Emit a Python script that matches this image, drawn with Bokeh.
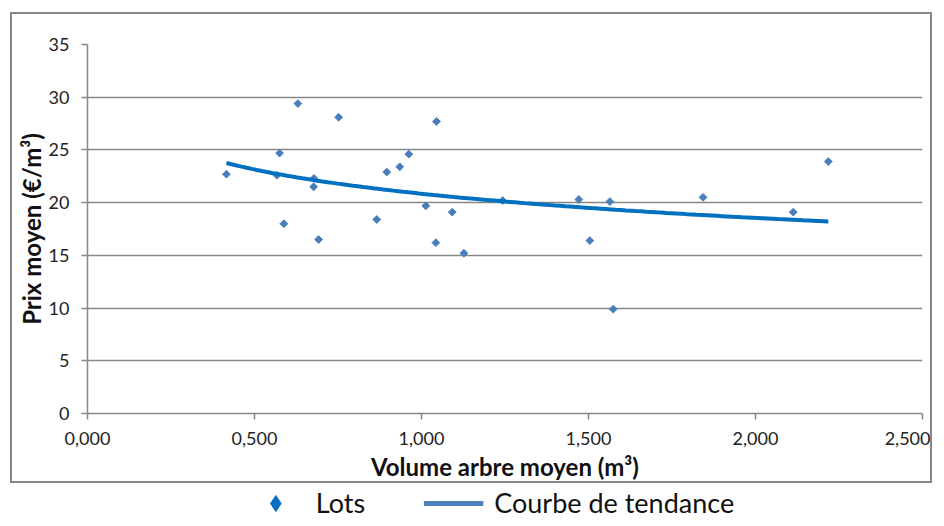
import numpy as np
from bokeh.plotting import figure
from bokeh.layouts import column
from bokeh.models import Legend, LegendItem, FixedTicker, Range1d
from bokeh.embed import file_html
from bokeh.resources import INLINE

# data
volume = [0.416, 0.575, 0.567, 0.588, 0.630, 0.678, 0.677, 0.692, 0.752, 0.866,
          0.896, 0.935, 0.962, 1.045, 1.013, 1.043, 1.092, 1.127, 1.243, 1.471,
          1.504, 1.564, 1.574, 1.843, 2.113, 2.218]
prix = [22.7, 24.7, 22.6, 18.0, 29.4, 22.3, 21.5, 16.5, 28.1, 18.4,
        22.9, 23.4, 24.6, 27.7, 19.7, 16.2, 19.1, 15.2, 20.2, 20.3,
        16.4, 20.1, 9.9, 20.5, 19.1, 23.9]
x_ticks = [0.0, 0.5, 1.0, 1.5, 2.0, 2.5]
x_tick_labels = ["0,000", "0,500", "1,000", "1,500", "2,000", "2,500"]
y_ticks = [0, 5, 10, 15, 20, 25, 30, 35]
legend_labels = ["Lots", "Courbe de tendance"]

FONT = "Lato"
GRAY = "#878787"

# logarithmic trend line fitted on the data (as the spreadsheet does)
b, a = np.polyfit(np.log(volume), prix, 1)
tx = np.linspace(min(volume), max(volume), 120)
ty = a + b * np.log(tx)

# ---- main chart (inside the bordered chart area) ----
p = figure(width=922, height=471, output_backend="svg", toolbar_location=None,
           x_range=Range1d(0, 2.5), y_range=Range1d(0, 35),
           min_border_left=75, min_border_right=12, min_border_top=30,
           min_border_bottom=72, outline_line_color=None,
           background_fill_color="white", border_fill_color="white",
           margin=(12, 0, 0, 10),
           styles={"border": "2px solid #878787"})

p.xgrid.grid_line_color = None
p.ygrid.grid_line_color = GRAY
p.ygrid.grid_line_width = 1.5

for ax in (p.xaxis[0], p.yaxis[0]):
    ax.axis_line_color = GRAY
    ax.axis_line_width = 1.5
    ax.major_tick_line_color = GRAY
    ax.major_tick_line_width = 1.5
    ax.major_tick_out = 6
    ax.major_tick_in = 0
    ax.minor_tick_line_color = None
    ax.major_label_text_font = FONT
    ax.major_label_text_font_size = "18px"
    ax.major_label_text_color = "#222222"
    ax.axis_label_text_font = FONT
    ax.axis_label_text_font_size = "24px"
    ax.axis_label_text_font_style = "bold"
    ax.axis_label_text_color = "#111111"

p.xaxis.ticker = FixedTicker(ticks=x_ticks)
p.xaxis.major_label_overrides = dict(zip(x_ticks, x_tick_labels))
p.yaxis.ticker = FixedTicker(ticks=y_ticks)
p.xaxis.axis_label = "Volume arbre moyen (m³)"
p.yaxis.axis_label = "Prix moyen (€/m³)"
p.xaxis.major_label_standoff = 12
p.yaxis.major_label_standoff = 12
p.xaxis.axis_label_standoff = 4
p.yaxis.axis_label_standoff = 0

p.scatter(volume, prix, marker="square", angle=np.pi / 4, size=5.5,
          color="#4A7EBB")
p.line(tx, ty, line_color="#0070C0", line_width=4)

# ---- legend strip below the chart area ----
# the same series are drawn out of view here, only to carry the legend swatches
lg = figure(width=896, height=39, output_backend="svg", toolbar_location=None,
            x_range=Range1d(0, 2.5), y_range=Range1d(1000, 1001),
            min_border=0, outline_line_color=None, margin=(0, 0, 0, 10),
            background_fill_color="white", border_fill_color="white")
lg.axis.visible = False
lg.grid.grid_line_color = None
r_pts = lg.scatter(volume, prix, marker="diamond", size=17, color="#0A6FC2")
r_line = lg.line(tx, ty, line_color="#4F81BD", line_width=5)
legend = Legend(items=[LegendItem(label=legend_labels[0], renderers=[r_pts]),
                       LegendItem(label=legend_labels[1], renderers=[r_line])],
                orientation="horizontal", location="center",
                label_text_font=FONT, label_text_font_size="27px",
                label_text_color="#111111",
                glyph_width=60, glyph_height=40, label_standoff=11, spacing=58,
                border_line_color=None, background_fill_alpha=0,
                padding=0, margin=0)
lg.add_layout(legend)

layout = column(p, lg, spacing=0)
open("out.html", "w").write(file_html(layout, INLINE))
